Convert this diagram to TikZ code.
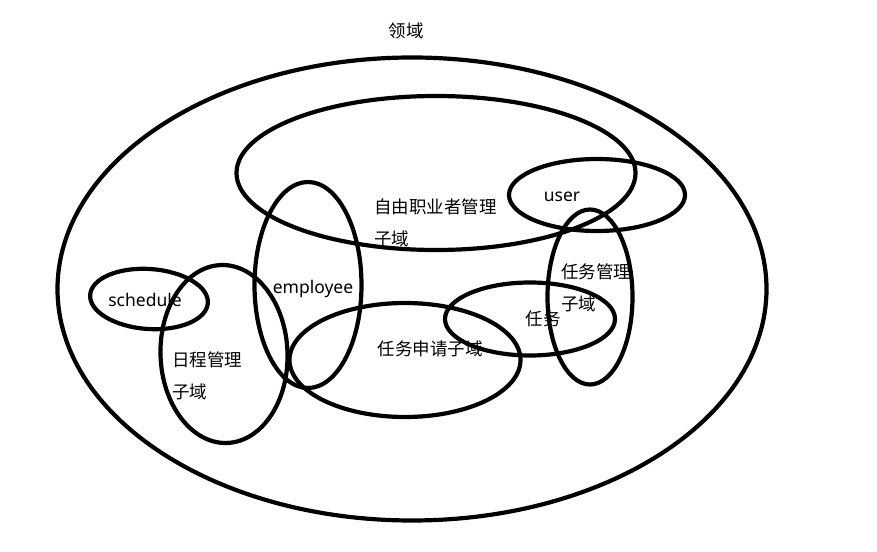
\documentclass[tikz,border=0pt]{standalone}
\usepackage{fontspec}
\setmainfont{Noto Sans}
\newfontfamily\cjk{Noto Sans CJK SC}
\usetikzlibrary{shapes.geometric}

\begin{document}
\begin{tikzpicture}[x=1bp,y=-1bp,
area/.style={ellipse,draw,line width=4.2bp,inner sep=0pt},
lbl/.style={font=\fontsize{17.5bp}{32bp}\selectfont\cjk,inner sep=0pt,align=left},
word/.style={font=\fontsize{17.5bp}{20bp}\selectfont,inner sep=0pt}]
\useasboundingbox (0,0) rectangle (877,552);
\node[lbl] (title) at (406,31) {领域};
\node[area,minimum width=709bp,minimum height=463bp] (domain) at (412,289) {};
\node[area,minimum width=399bp,minimum height=154bp] (freelance) at (436,173) {};
\node[area,minimum width=176bp,minimum height=72bp] (user) at (597,195) {};
\node[area,minimum width=85bp,minimum height=175bp] (taskmgmt) at (590,297) {};
\node[area,minimum width=170bp,minimum height=73bp] (task) at (530,319) {};
\node[area,minimum width=231bp,minimum height=114bp] (apply) at (405,360) {};
\node[area,minimum width=107bp,minimum height=206bp] (employee) at (308,285) {};
\node[area,minimum width=118bp,minimum height=60bp,rotate=-4] (schedule) at (149,299) {};
\node[area,minimum width=127bp,minimum height=178bp,rotate=2] (plan) at (224,354) {};
% labels
\node[lbl,anchor=west] (freelancetxt) at (374,222.5) {自由职业者管理\\子域};
\node[word] (usertxt) at (562,197) {user};
\node[lbl,anchor=west] (taskmgmttxt) at (561,288) {任务管理\\子域};
\node[lbl] (tasktxt) at (543,319) {任务};
\node[lbl] (applytxt) at (430,349) {任务申请子域};
\node[word] (employeetxt) at (313,289) {employee};
\node[word] (scheduletxt) at (145,300) {schedule};
\node[lbl,anchor=west] (plantxt) at (172,376) {日程管理\\子域};
\end{tikzpicture}
\end{document}
